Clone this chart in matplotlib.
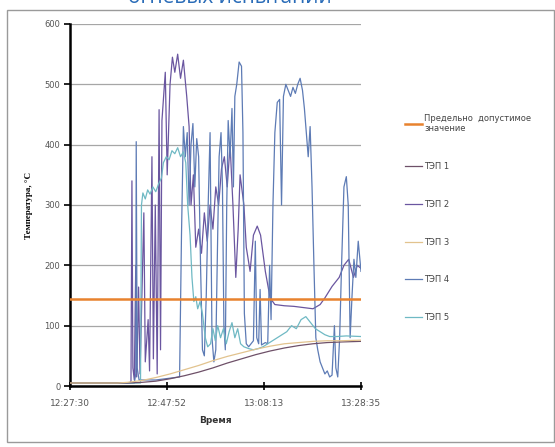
import matplotlib
matplotlib.use("Agg")
import matplotlib.pyplot as plt
from matplotlib.patches import Rectangle

plt.rcParams['font.family'] = ['DejaVu Sans']

# time in minutes from 12:27:30
tick_pos = [0, 20.37, 40.72, 61.08]
tick_labels = ["12:27:30", "12:47:52", "13:08:13", "13:28:35"]
yticks = [0, 100, 200, 300, 400, 500, 600]

limit_value = 145

t1 = [0, 12, 15, 18, 21, 24, 27, 30, 33, 36, 39, 42, 45, 48, 51, 54, 57, 61.08]
v1 = [5, 5, 6, 8, 12, 17, 23, 30, 38, 45, 52, 58, 63, 67, 70, 72, 73, 74]

t2 = [0, 12.5, 12.8, 13.0, 13.2, 13.5, 13.8, 14.0, 14.4, 14.7, 15.5, 15.8, 16.4, 16.7,
      17.2, 17.5, 17.9, 18.3, 18.7, 19.0, 19.3, 20.0, 20.4, 21.0, 21.5, 22.0, 22.6,
      23.2, 23.8, 24.5, 25.0, 25.4, 25.9, 26.4, 27.0, 27.6, 28.2, 28.8, 29.4, 30.0,
      30.6, 31.2, 31.8, 32.4, 33.0, 33.6, 34.2, 34.8, 35.3, 35.7, 36.5, 37.0, 37.8,
      38.5, 39.3, 40.0, 41.0, 42.0, 43.0, 45.0, 47.0, 49.0, 51.0, 52.5, 53.5, 55.0,
      56.5, 57.5, 58.5, 59.5, 60.3, 61.08]
v2 = [5, 5, 8, 340, 30, 10, 200, 15, 164, 20, 287, 40, 110, 25,
      380, 45, 300, 20, 458, 60, 440, 520, 350, 500, 545, 520, 550,
      510, 540, 480, 430, 300, 350, 230, 260, 220, 287, 240, 300, 260,
      330, 300, 360, 380, 330, 400, 300, 180, 260, 350, 300, 230, 190,
      250, 265, 250, 190, 146, 135, 133, 132, 130, 128, 135, 146, 165,
      180, 200, 210, 180, 200, 195]

t3 = [0, 10, 12, 15, 18, 21, 24, 27, 30, 33, 36, 39, 42, 45, 48, 51, 54, 57, 61.08]
v3 = [5, 5, 6, 9, 14, 20, 27, 34, 42, 49, 55, 61, 66, 70, 72, 74, 75, 75, 76]

t4 = [0, 13.5, 13.8, 13.9, 14.1, 14.5, 18.0, 23.0, 23.4, 23.8, 24.2, 24.6, 25.0,
      25.4, 25.8, 26.2, 26.6, 27.0, 27.4, 27.8, 28.2, 28.6, 29.0, 29.4, 29.8, 30.2,
      30.6, 31.0, 31.3, 31.7, 32.0, 32.3, 32.6, 32.9, 33.2, 33.6, 34.0, 34.3, 34.6,
      35.0, 35.5, 36.0, 36.3, 36.6, 37.0, 37.5, 38.0, 38.5, 38.9, 39.2, 39.6, 39.9,
      40.2, 41.0, 41.5, 41.9, 42.2, 42.6, 43.0, 43.5, 44.0, 44.4, 44.8, 45.3, 45.8,
      46.3, 46.8, 47.3, 47.8, 48.3, 48.8, 49.2, 49.6, 50.0, 50.4, 50.8, 51.2, 51.6,
      52.0, 52.5, 53.0, 53.5, 54.0, 54.5, 55.0, 55.5, 55.8, 56.2, 56.6, 57.0, 57.5,
      58.0, 58.4, 58.8, 59.2, 59.6, 60.0, 60.5, 61.08]
v4 = [5, 5, 20, 405, 30, 10, 10, 15, 250, 430, 380, 420, 300,
      400, 435, 330, 410, 380, 200, 60, 50, 150, 300, 420, 80, 40,
      60, 250, 380, 420, 330, 100, 60, 300, 440, 380, 460, 330, 480,
      500, 537, 530, 420, 120, 70, 65, 70, 75, 240, 80, 70, 160,
      68, 72, 70, 200, 110, 300, 420, 470, 475, 300, 480, 500, 490,
      480, 495, 485, 500, 510, 490, 460, 420, 380, 430, 330, 200, 80,
      60, 40, 30, 20, 25, 15, 18, 100, 30, 15, 80, 200, 330,
      347, 300, 80, 150, 210, 180, 240, 190]

t5 = [0, 14.8, 15.0, 15.3, 15.8, 16.3, 16.8, 17.4, 18.0, 18.6, 19.2, 19.6, 20.2,
      20.8, 21.4, 22.0, 22.6, 23.2, 23.8, 24.3, 24.7, 25.2, 25.6, 26.0, 26.4, 26.8,
      27.3, 27.8, 28.4, 28.9, 29.5, 30.0, 30.5, 31.0, 31.6, 32.2, 32.8, 33.4, 34.0,
      34.6, 35.2, 35.8, 36.5, 37.5, 38.5, 39.5, 40.5, 41.5, 42.5, 43.5, 44.5, 45.5,
      46.5, 47.5, 48.5, 49.5, 50.5, 51.5, 52.5, 53.5, 54.5, 56.0, 58.0, 61.08]
v5 = [5, 5, 300, 320, 310, 325, 318, 330, 322, 335, 345, 370, 380,
      375, 390, 385, 395, 380, 388, 370, 300, 250, 180, 140, 148, 128,
      140, 120, 80, 65, 70, 95, 75, 100, 80, 95, 70, 90, 105,
      80, 95, 70, 65, 62, 60, 62, 65, 70, 75, 80, 85, 90,
      100, 95, 110, 115, 105, 95, 90, 85, 82, 82, 83, 82]

series_labels = ["ТЭП 1", "ТЭП 2", "ТЭП 3", "ТЭП 4", "ТЭП 5"]
limit_label = "Предельно  допустимое\nзначение"

fig = plt.figure(figsize=(5.55, 4.47), dpi=100)
fig.patches.append(Rectangle((7 / 555, 1 - 442 / 447), 547 / 555, 432 / 447,
                             transform=fig.transFigure, fill=False,
                             edgecolor="#9a9a9a", linewidth=1.0))
fig.text(0.415, 1.005, "огневых испытаний", color="#2a6cb8", fontsize=15,
         ha="center", va="center", family=["Open Sans", "DejaVu Sans"])

ax = fig.add_axes([70 / 555, 1 - 386 / 447, 291 / 555, 362 / 447])

lw = 0.9
ax.axhline(limit_value, color="#e8822e", linewidth=1.8, label=limit_label, zorder=3)
ax.plot(t1, v1, color="#6e5068", linewidth=lw, label=series_labels[0], zorder=4)
ax.plot(t2, v2, color="#6a56a0", linewidth=lw, label=series_labels[1], zorder=2)
ax.plot(t3, v3, color="#e2c38e", linewidth=lw, label=series_labels[2], zorder=4)
ax.plot(t4, v4, color="#5d7bb5", linewidth=lw, label=series_labels[3], zorder=2)
ax.plot(t5, v5, color="#6fb9c4", linewidth=lw, label=series_labels[4], zorder=2)

ax.set_xlim(0, 61.08)
ax.set_ylim(0, 600)
ax.set_yticks(yticks)
ax.set_xticks(tick_pos)
ax.set_xticklabels(tick_labels)
ax.yaxis.grid(True, color="#a6a6a6", linewidth=0.9)
ax.set_axisbelow(True)
for s in ["top", "right"]:
    ax.spines[s].set_visible(False)
ax.spines["left"].set_linewidth(1.8)
ax.spines["bottom"].set_linewidth(1.8)
ax.tick_params(axis="y", direction="out", length=4, width=1.2, labelsize=6,
               labelcolor="#555555", pad=3)
ax.tick_params(axis="x", direction="inout", length=6, width=1.2, labelsize=6.5,
               labelcolor="#555555", pad=6)
ax.set_ylabel("Температура, °C", fontsize=6.5, fontweight="bold",
              family=["Liberation Serif", "DejaVu Serif"], labelpad=8)
ax.set_xlabel("Время", fontsize=6.5, fontweight="bold", color="#333333", labelpad=6)

leg = ax.legend(loc="upper left", bbox_to_anchor=(405 / 555, 1 - 114 / 447),
                bbox_transform=fig.transFigure, frameon=False, fontsize=6,
                labelspacing=3.45, handlelength=2.0, handletextpad=0.3,
                borderaxespad=0, borderpad=0)
for txt in leg.get_texts():
    txt.set_color("#444444")

fig.savefig("out.png", dpi=100)
